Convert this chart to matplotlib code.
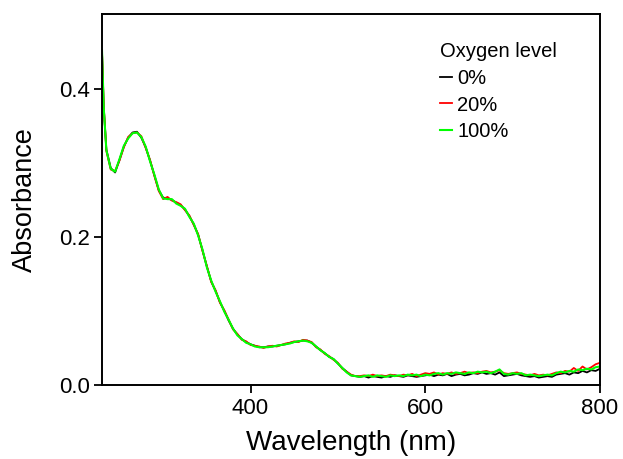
import matplotlib
matplotlib.use("Agg")
import matplotlib.pyplot as plt

plt.rcParams['font.family'] = ['Liberation Sans', 'DejaVu Sans']

wavelength = [230, 232, 235, 240, 245, 250, 255, 260, 265, 270, 275, 280, 285, 290, 295,
              300, 305, 310, 315, 320, 325, 330, 335, 340, 345, 350, 355, 360, 365, 370,
              375, 380, 385, 390, 395, 400, 405, 410, 415, 420, 425, 430, 435, 440, 445,
              450, 455, 460, 465, 470, 475, 480, 485, 490, 495, 500, 505, 510, 515, 520,
              525, 530, 535, 540, 545, 550, 555, 560, 565, 570, 575, 580, 585, 590, 595,
              600, 605, 610, 615, 620, 625, 630, 635, 640, 645, 650, 655, 660, 665, 670,
              675, 680, 685, 690, 695, 700, 705, 710, 715, 720, 725, 730, 735, 740, 745,
              750, 755, 760, 765, 770, 775, 780, 785, 790, 795, 800]

abs_0 = [0.450, 0.375, 0.318, 0.293, 0.287, 0.304, 0.322, 0.334, 0.341, 0.342, 0.334, 0.321, 0.303, 0.283, 0.263,
         0.253, 0.252, 0.250, 0.246, 0.243, 0.237, 0.228, 0.217, 0.203, 0.182, 0.160, 0.140, 0.127, 0.112, 0.100,
         0.087, 0.076, 0.068, 0.062, 0.058, 0.055, 0.053, 0.051, 0.051, 0.052, 0.052, 0.053, 0.054, 0.055, 0.057,
         0.058, 0.059, 0.060, 0.060, 0.057, 0.052, 0.047, 0.043, 0.038, 0.035, 0.029, 0.023, 0.018, 0.013, 0.012,
         0.011, 0.012, 0.010, 0.012, 0.011, 0.010, 0.012, 0.011, 0.013, 0.012, 0.011, 0.013, 0.012, 0.011, 0.012,
         0.013, 0.014, 0.012, 0.014, 0.013, 0.015, 0.012, 0.014, 0.015, 0.013, 0.014, 0.016, 0.015, 0.017, 0.015,
         0.016, 0.014, 0.017, 0.012, 0.013, 0.014, 0.015, 0.013, 0.012, 0.011, 0.012, 0.010, 0.011, 0.012, 0.011,
         0.014, 0.015, 0.016, 0.014, 0.017, 0.016, 0.019, 0.017, 0.020, 0.019, 0.022]

abs_20 = [0.450, 0.376, 0.316, 0.291, 0.289, 0.303, 0.321, 0.335, 0.340, 0.341, 0.336, 0.320, 0.304, 0.282, 0.262,
          0.251, 0.254, 0.249, 0.247, 0.244, 0.236, 0.229, 0.216, 0.204, 0.181, 0.161, 0.139, 0.128, 0.111, 0.101,
          0.088, 0.075, 0.069, 0.061, 0.059, 0.054, 0.053, 0.052, 0.050, 0.052, 0.053, 0.052, 0.054, 0.056, 0.057,
          0.059, 0.058, 0.061, 0.060, 0.058, 0.051, 0.048, 0.042, 0.039, 0.034, 0.030, 0.022, 0.018, 0.014, 0.012,
          0.012, 0.013, 0.012, 0.014, 0.012, 0.013, 0.012, 0.014, 0.013, 0.012, 0.014, 0.013, 0.015, 0.012, 0.014,
          0.016, 0.015, 0.017, 0.014, 0.016, 0.015, 0.017, 0.015, 0.016, 0.018, 0.016, 0.017, 0.016, 0.018, 0.019,
          0.017, 0.018, 0.020, 0.016, 0.015, 0.016, 0.017, 0.015, 0.014, 0.013, 0.015, 0.013, 0.014, 0.013, 0.015,
          0.017, 0.016, 0.019, 0.018, 0.023, 0.019, 0.025, 0.021, 0.024, 0.028, 0.030]

abs_100 = [0.452, 0.374, 0.317, 0.292, 0.288, 0.305, 0.323, 0.333, 0.340, 0.341, 0.335, 0.322, 0.302, 0.284, 0.264,
           0.252, 0.251, 0.251, 0.245, 0.242, 0.238, 0.227, 0.218, 0.202, 0.183, 0.159, 0.141, 0.126, 0.113, 0.099,
           0.088, 0.076, 0.067, 0.062, 0.057, 0.055, 0.052, 0.051, 0.051, 0.051, 0.052, 0.053, 0.054, 0.055, 0.056,
           0.058, 0.059, 0.060, 0.059, 0.057, 0.052, 0.047, 0.043, 0.038, 0.035, 0.029, 0.023, 0.017, 0.013, 0.012,
           0.011, 0.012, 0.013, 0.011, 0.013, 0.012, 0.011, 0.013, 0.012, 0.013, 0.012, 0.014, 0.013, 0.014, 0.012,
           0.014, 0.013, 0.015, 0.016, 0.014, 0.016, 0.015, 0.017, 0.016, 0.015, 0.017, 0.016, 0.018, 0.017, 0.018,
           0.016, 0.018, 0.021, 0.015, 0.014, 0.016, 0.015, 0.016, 0.013, 0.014, 0.013, 0.012, 0.013, 0.014, 0.013,
           0.016, 0.018, 0.017, 0.019, 0.018, 0.021, 0.020, 0.022, 0.021, 0.024, 0.025]

series_labels = ["0%", "20%", "100%"]
series_colors = ["#000000", "#ff0000", "#00ff00"]
x_ticks = [400, 600, 800]
y_ticks = [0.0, 0.2, 0.4]

fig = plt.figure(figsize=(6.23, 4.59), dpi=100)
ax = fig.add_axes([102/623, 74/459, 498/623, 371/459])

for ys, lab, col, lw in zip([abs_0, abs_20, abs_100], series_labels, series_colors, [1.3, 1.3, 1.5]):
    ax.plot(wavelength, ys, color=col, lw=lw, label=lab)

ax.set_xlim(230, 800)
ax.set_ylim(0.0, 0.501)
ax.set_xticks(x_ticks)
ax.set_xticklabels([str(t) for t in x_ticks])
ax.set_yticks(y_ticks)
ax.set_yticklabels([f"{t:.1f}" for t in y_ticks])

for s in ax.spines.values():
    s.set_linewidth(1.4)
ax.tick_params(direction='out', length=6, width=1.3, labelsize=16, pad=3, color='black')

ax.set_xlabel("Wavelength (nm)", fontsize=20, labelpad=8)
ax.set_ylabel("Absorbance", fontsize=19.5, labelpad=15)

leg = ax.legend(title="Oxygen level", loc='upper left', bbox_to_anchor=(0.651, 0.962),
                frameon=False, fontsize=14.5, title_fontsize=14.5, handlelength=0.6,
                handletextpad=0.25, labelspacing=0.38, borderpad=0.2, alignment='left')

fig.savefig("out.png", dpi=100)
